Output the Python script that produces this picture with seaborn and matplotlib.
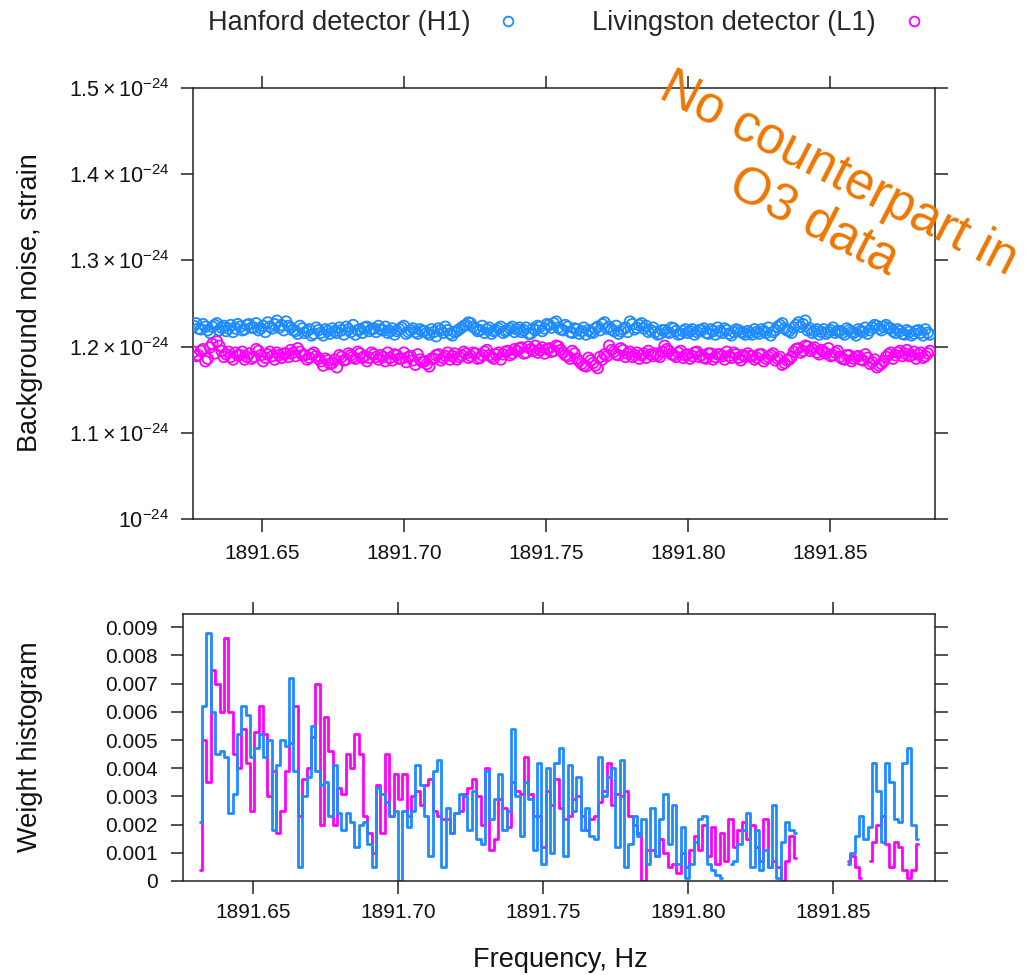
import numpy as np
import pandas as pd
import matplotlib
matplotlib.use("Agg")
import matplotlib.pyplot as plt
from matplotlib.lines import Line2D
import seaborn as sns

# ---------------- data ----------------
detectors = ["Hanford detector (H1)", "Livingston detector (L1)"]
colors = {"Hanford detector (H1)": "#1E8CFF", "Livingston detector (L1)": "#FF00FF"}

# top panel: background noise (units of 1e-27 strain) on a regular frequency grid;
# the "_a" lists sit on the grid points, the "_b" lists halfway between them
top_f_start = 1891.626
top_f_step = 0.001625
h1_noise_a = [
    1224, 1221, 1226, 1219, 1223, 1227, 1222, 1218, 1225, 1221,
    1223, 1220, 1226, 1222, 1219, 1224, 1228, 1221, 1230, 1225,
    1229, 1222, 1218, 1224, 1216, 1220, 1215, 1219, 1213, 1218,
    1221, 1216, 1219, 1223, 1217, 1214, 1220, 1222, 1218, 1221,
    1224, 1219, 1216, 1221, 1218, 1222, 1215, 1219, 1217, 1220,
    1218, 1214, 1217, 1221, 1216, 1219, 1213, 1218, 1222, 1225,
    1227, 1221, 1219, 1216, 1222, 1218, 1221, 1216, 1219, 1223,
    1220, 1217, 1222, 1215, 1219, 1223, 1221, 1225, 1227, 1222,
    1219, 1223, 1216, 1220, 1218, 1214, 1217, 1221, 1219, 1228,
    1223, 1218, 1215, 1220, 1217, 1226, 1222, 1227, 1224, 1219,
    1217, 1215, 1219, 1216, 1221, 1214, 1218, 1216, 1220, 1217,
    1219, 1216, 1220, 1214, 1218, 1221, 1215, 1217, 1219, 1216,
    1218, 1214, 1217, 1220, 1216, 1213, 1219, 1225, 1221, 1218,
    1222, 1228, 1226, 1219, 1216, 1220, 1217, 1215, 1219, 1216,
    1218, 1214, 1219, 1216, 1220, 1217, 1215, 1222, 1224, 1219,
    1225, 1221, 1216, 1218, 1214, 1217, 1215, 1219, 1213, 1216,
]
h1_noise_b = [
    1227, 1220, 1223, 1216, 1225, 1219, 1224, 1221, 1217, 1226,
    1219, 1225, 1222, 1227, 1221, 1217, 1223, 1226, 1222, 1219,
    1224, 1219, 1215, 1221, 1218, 1213, 1222, 1216, 1220, 1215,
    1218, 1222, 1214, 1220, 1225, 1219, 1216, 1223, 1220, 1217,
    1220, 1223, 1218, 1214, 1220, 1224, 1217, 1221, 1215, 1218,
    1216, 1220, 1212, 1219, 1223, 1215, 1217, 1220, 1224, 1228,
    1223, 1218, 1224, 1220, 1215, 1219, 1223, 1218, 1221, 1217,
    1222, 1219, 1215, 1221, 1224, 1218, 1226, 1222, 1229, 1220,
    1225, 1217, 1221, 1215, 1222, 1219, 1216, 1223, 1226, 1221,
    1220, 1224, 1218, 1222, 1229, 1220, 1225, 1221, 1217, 1222,
    1214, 1219, 1217, 1222, 1218, 1215, 1220, 1218, 1214, 1219,
    1221, 1215, 1218, 1222, 1216, 1219, 1213, 1220, 1217, 1214,
    1216, 1220, 1215, 1218, 1222, 1217, 1223, 1227, 1219, 1216,
    1225, 1223, 1230, 1221, 1218, 1214, 1220, 1217, 1222, 1218,
    1216, 1221, 1217, 1213, 1218, 1222, 1219, 1225, 1221, 1223,
    1222, 1218, 1220, 1215, 1219, 1213, 1218, 1216, 1220, 1214,
]
l1_noise_a = [
    1194, 1190, 1197, 1186, 1203, 1206, 1195, 1191, 1188, 1193,
    1190, 1185, 1192, 1188, 1195, 1183, 1191, 1189, 1193, 1187,
    1192, 1196, 1189, 1194, 1190, 1187, 1193, 1186, 1178, 1184,
    1181, 1176, 1188, 1185, 1190, 1186, 1192, 1189, 1187, 1191,
    1185, 1188, 1193, 1184, 1190, 1186, 1182, 1189, 1179, 1185,
    1183, 1177, 1186, 1191, 1187, 1193, 1189, 1185, 1190, 1192,
    1189, 1192, 1187, 1194, 1190, 1186, 1193, 1191, 1195, 1192,
    1195, 1199, 1193, 1197, 1201, 1196, 1192, 1198, 1195, 1200,
    1193, 1189, 1195, 1186, 1180, 1177, 1184, 1178, 1188, 1191,
    1201, 1194, 1190, 1196, 1192, 1188, 1193, 1190, 1187, 1191,
    1192, 1188, 1201, 1195, 1190, 1193, 1187, 1191, 1189, 1194,
    1190, 1186, 1192, 1188, 1191, 1185, 1189, 1193, 1187, 1190,
    1192, 1189, 1187, 1191, 1186, 1190, 1184, 1188, 1181, 1185,
    1194, 1198, 1195, 1200, 1197, 1193, 1196, 1192, 1189, 1193,
    1188, 1185, 1190, 1186, 1189, 1184, 1187, 1182, 1176, 1180,
    1188, 1193, 1190, 1195, 1192, 1189, 1194, 1191, 1187, 1192,
]
l1_noise_b = [
    1189, 1195, 1183, 1199, 1192, 1201, 1188, 1194, 1185, 1190,
    1194, 1188, 1186, 1197, 1190, 1187, 1194, 1185, 1190, 1192,
    1188, 1193, 1198, 1190, 1185, 1191, 1189, 1183, 1186, 1180,
    1185, 1190, 1184, 1192, 1188, 1194, 1187, 1183, 1193, 1188,
    1190, 1183, 1187, 1191, 1186, 1193, 1188, 1184, 1191, 1182,
    1180, 1186, 1190, 1184, 1189, 1185, 1192, 1188, 1194, 1187,
    1193, 1186, 1190, 1196, 1188, 1191, 1185, 1194, 1190, 1197,
    1198, 1192, 1200, 1195, 1193, 1199, 1197, 1194, 1201, 1196,
    1190, 1186, 1192, 1183, 1178, 1187, 1181, 1175, 1185, 1189,
    1196, 1191, 1198, 1188, 1194, 1190, 1186, 1192, 1195, 1189,
    1190, 1194, 1197, 1191, 1188, 1195, 1190, 1186, 1193, 1188,
    1187, 1192, 1185, 1191, 1189, 1194, 1187, 1191, 1184, 1188,
    1189, 1185, 1191, 1183, 1188, 1192, 1186, 1179, 1184, 1188,
    1197, 1193, 1201, 1195, 1199, 1191, 1194, 1198, 1190, 1195,
    1186, 1190, 1183, 1188, 1185, 1191, 1180, 1185, 1178, 1183,
    1191, 1186, 1193, 1189, 1196, 1190, 1186, 1193, 1189, 1195,
]

# bottom panel: weight histogram (units of 1e-4), bins of fixed width
hist_f_start = 1891.631
hist_bin = 0.0015
nan = float("nan")
h1_weight_e4 = [
    21, 62, 88, 60, 45, 46, 44, 24, 31, 52,
    62, 59, 44, 47, 52, 44, 50, 18, 41, 50,
    48, 72, 39, 5, 30, 37, 55, 39, 34, 35,
    23, 41, 24, 18, 24, 21, 12, 20, 21, 13,
    5, 33, 31, 28, 23, 25, 0, 25, 19, 25,
    41, 34, 23, 9, 39, 43, 5, 26, 17, 24,
    31, 30, 18, 32, 15, 13, 39, 22, 29, 38,
    18, 25, 54, 30, 16, 35, 29, 11, 42, 6,
    40, 10, 42, 47, 9, 41, 25, 37, 18, 26,
    16, 15, 44, 30, 37, 40, 12, 43, 5, 13,
    23, 16, 22, 6, 26, 9, 22, 31, 13, 27,
    6, 19, 1, 6, 14, 22, 23, 6, 4, 2,
    1, nan, 6, 7, 13, 18, 24, 5, 18, 4,
    11, 5, 27, 1, 14, 21, 18, 17, nan, nan,
    nan, nan, nan, nan, nan, nan, nan, nan, nan, 6,
    10, 16, 23, 15, 19, 42, 32, 14, 42, 35,
    22, 21, 42, 47, 20, 15,
]
l1_weight_e4 = [
    4, 50, 35, 75, 70, 60, 86, 60, 45, 40,
    54, 42, 25, 53, 62, 52, 30, 39, 17, 25,
    39, 49, 62, 23, 36, 40, 51, 70, 20, 58,
    46, 20, 33, 31, 45, 40, 52, 45, 23, 17,
    10, 34, 17, 45, 23, 38, 29, 38, 23, 30,
    32, 27, 34, 36, 25, 23, 22, 22, 17, 24,
    25, 31, 33, 36, 30, 20, 40, 11, 15, 29,
    26, 19, 35, 32, 31, 44, 31, 23, 23, 12,
    32, 27, 36, 26, 22, 23, 29, 30, 23, 18,
    22, 23, 28, 32, 42, 27, 31, 30, 32, 23,
    20, 17, 0, 11, 11, 9, 15, 10, 5, 6,
    3, 10, 5, 11, 16, 11, 20, 9, 19, 6,
    17, 7, 22, 12, 18, 21, 15, 20, 12, 7,
    22, 5, 7, 5, 0, 7, 16, 8, nan, nan,
    nan, nan, nan, nan, nan, nan, nan, nan, nan, 7,
    9, 5, 1, nan, 7, 14, 20, 23, 13, 5,
    14, 12, 4, 1, 4, 13,
]

top_yticks = [1.0e-24, 1.1e-24, 1.2e-24, 1.3e-24, 1.4e-24, 1.5e-24]
top_yticklabels = [r"$10^{-24}$", r"$1.1\times10^{-24}$", r"$1.2\times10^{-24}$",
                   r"$1.3\times10^{-24}$", r"$1.4\times10^{-24}$", r"$1.5\times10^{-24}$"]
freq_ticks = [1891.65, 1891.70, 1891.75, 1891.80, 1891.85]
freq_ticklabels = ["1891.65", "1891.70", "1891.75", "1891.80", "1891.85"]
weight_ticks = [0, 0.001, 0.002, 0.003, 0.004, 0.005, 0.006, 0.007, 0.008, 0.009]
weight_ticklabels = ["0", "0.001", "0.002", "0.003", "0.004", "0.005", "0.006",
                     "0.007", "0.008", "0.009"]

# ---------------- tables ----------------
grid_a = top_f_start + top_f_step * np.arange(len(h1_noise_a))
grid_b = grid_a + top_f_step / 2

def noise_table(vals_a, vals_b, det):
    f = np.concatenate([grid_a, grid_b])
    v = np.concatenate([vals_a, vals_b]) * 1e-27
    order = np.argsort(f)
    return pd.DataFrame({"freq": f[order], "strain": v[order], "detector": det})

top_df = pd.concat([noise_table(h1_noise_a, h1_noise_b, detectors[0]),
                    noise_table(l1_noise_a, l1_noise_b, detectors[1])])

def hist_table(vals, det):
    centers = hist_f_start + hist_bin * (np.arange(len(vals)) + 0.5)
    v = np.array(vals, dtype=float) * 1e-4
    seg = np.cumsum(np.isnan(v))
    df = pd.DataFrame({"freq": centers, "weight": v,
                       "segment": [f"{det}-{s}" for s in seg], "detector": det})
    return df.dropna()

hist_df = pd.concat([hist_table(h1_weight_e4, detectors[0]),
                     hist_table(l1_weight_e4, detectors[1])])

# ---------------- style ----------------
sns.set_theme(style="white")
plt.rcParams["font.family"] = ["Liberation Sans", "DejaVu Sans"]
plt.rcParams["mathtext.fontset"] = "custom"
plt.rcParams["mathtext.rm"] = "Liberation Sans"
plt.rcParams["mathtext.it"] = "Liberation Sans:italic"
plt.rcParams["mathtext.bf"] = "Liberation Sans:bold"

W, H = 1030, 975
fig = plt.figure(figsize=(W / 100, H / 100), dpi=100)
ax1 = fig.add_axes([193 / W, 1 - 519 / H, 742 / W, 431 / H])
ax2 = fig.add_axes([183 / W, 1 - 881 / H, 752 / W, 267 / H])

spine_c = "#222222"
for ax in (ax1, ax2):
    for s in ax.spines.values():
        s.set_color(spine_c)
        s.set_linewidth(1.1)
        s.set_visible(True)
    ax.tick_params(direction="out", length=9, width=1.1, color=spine_c,
                   bottom=True, left=True, top=True, right=True,
                   labeltop=False, labelright=False, labelsize=15,
                   labelcolor="#111111", pad=8)
    ax.set_facecolor("white")

# top: scatter with open circles
for det in detectors:
    sub = top_df[top_df["detector"] == det]
    sns.scatterplot(data=sub, x="freq", y="strain", ax=ax1, color=colors[det],
                    s=58, linewidth=1.3, legend=False, zorder=3)
    coll = ax1.collections[-1]
    coll.set_facecolor("none")
    coll.set_edgecolor(colors[det])

ax1.set_xlim(1891.6257, 1891.6257 + 742 / 2840)
ax1.set_ylim(1.0e-24, 1.5e-24)
ax1.set_xticks(freq_ticks)
ax1.set_xticklabels(freq_ticklabels)
ax1.set_yticks(top_yticks)
ax1.set_yticklabels(top_yticklabels)
ax1.set_xlabel("")
ax1.set_ylabel("")
ax1.tick_params(axis="x", pad=9)
ax1.tick_params(axis="y", pad=8, labelsize=15.5)

# bottom: step histogram
sns.lineplot(data=hist_df, x="freq", y="weight", hue="detector", units="segment",
             estimator=None, palette=colors, hue_order=detectors[::-1],
             drawstyle="steps-mid", linewidth=2.0, legend=False, ax=ax2)
ax2.set_xlim(1891.6259, 1891.6259 + 752 / 2900)
ax2.set_ylim(0, 267 / 28.2 * 0.001)
ax2.set_xticks(freq_ticks)
ax2.set_xticklabels(freq_ticklabels)
ax2.set_yticks(weight_ticks)
ax2.set_yticklabels(weight_ticklabels)
ax2.set_xlabel("")
ax2.set_ylabel("")
ax2.tick_params(axis="x", pad=7)
ax2.tick_params(axis="y", pad=9)

# axis titles
fig.text(30 / W, 1 - 303 / H, "Background noise, strain", rotation=90,
         ha="center", va="center", fontsize=19.5, color="#111111")
fig.text(30 / W, 1 - 747 / H, "Weight histogram", rotation=90,
         ha="center", va="center", fontsize=19.5, color="#111111")
fig.text(560 / W, 1 - 960 / H, "Frequency, Hz", ha="center", va="center",
         fontsize=19.5, color="#111111")

# legend (text first, marker after)
handles = [Line2D([], [], marker="o", linestyle="none", markerfacecolor="none",
                  markeredgecolor=colors[d], markersize=7, markeredgewidth=1.3)
           for d in detectors]
fig.legend(handles, detectors, loc="center left",
           bbox_to_anchor=(208 / W, 1 - 23 / H), ncol=2, markerfirst=False,
           frameon=False, fontsize=19.5, handlelength=1.0, handletextpad=0.9,
           columnspacing=2.6, borderpad=0, borderaxespad=0)

# annotation
fig.text(826 / W, 1 - 198 / H, "No counterpart in\nO3 data", rotation=-27,
         rotation_mode="anchor", ha="center", va="center", multialignment="center",
         fontsize=37, color="#EE7600", linespacing=1.1)

fig.savefig("out.png", dpi=100)
